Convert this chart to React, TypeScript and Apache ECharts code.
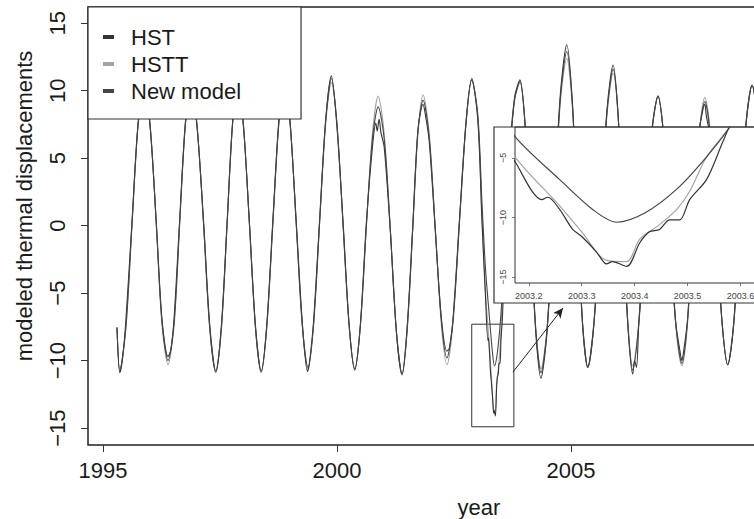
import React, { useEffect, useRef } from "react";
import * as echarts from "echarts";

// ---- data ----
const legendNames = ["HST", "HSTT", "New model"];
const xTickValues = [1995, 2000, 2005];
const yTickValues = [-15, -10, -5, 0, 5, 10, 15];
const insetXTicks = [2003.2, 2003.3, 2003.4, 2003.5, 2003.6];
const insetYTicks = [-15, -10, -5];

// [year, displacement]
const hsttPoints: number[][] = [
  [1995.3, -7.6], [1995.36, -10.8], [1995.49, -7.6], [1995.62, 0.0], [1995.75, 7.4], [1995.88, 10.5],
  [1996.01, 7.4], [1996.14, 0.0], [1996.26, -7.3], [1996.39, -10.3], [1996.52, -7.4], [1996.64, 0.2],
  [1996.76, 7.4], [1996.88, 10.4], [1997.01, 7.5], [1997.15, 0.0], [1997.28, -7.6], [1997.41, -10.9],
  [1997.53, -7.7], [1997.65, -0.1], [1997.77, 7.5], [1997.88, 10.5], [1998.0, 7.6], [1998.13, 0.0],
  [1998.26, -7.7], [1998.38, -10.9], [1998.5, -7.6], [1998.63, 0.1], [1998.76, 7.6], [1998.88, 10.8],
  [1999.0, 7.7], [1999.13, 0.0], [1999.26, -7.5], [1999.38, -10.6], [1999.5, -7.4], [1999.63, 0.2],
  [1999.76, 7.6], [1999.88, 10.6], [2000.0, 7.6], [2000.13, 0.0], [2000.26, -7.5], [2000.38, -10.6],
  [2000.5, -7.5], [2000.63, 0.0], [2000.76, 6.9], [2000.88, 9.6], [2001.01, 6.8], [2001.14, -0.2],
  [2001.27, -7.9], [2001.39, -11.1], [2001.5, -7.8], [2001.62, -0.3], [2001.73, 6.8], [2001.84, 9.7],
  [2001.97, 6.9], [2002.1, -0.2], [2002.23, -7.3], [2002.35, -10.3], [2002.48, -7.2], [2002.62, 0.3],
  [2002.76, 7.6], [2002.88, 10.8], [2003.01, 8.0], [2003.1, 0.4], [2003.174, -4.9], [2003.258, -9.0],
  [2003.3, -11.2], [2003.347, -13.6], [2003.385, -13.7], [2003.41, -11.8], [2003.447, -10.6],
  [2003.48, -9.3], [2003.504, -7.8], [2003.536, -4.9], [2003.579, -2.4], [2003.62, 0.8], [2003.7, 6.0],
  [2003.8, 9.5], [2003.91, 10.6], [2004.02, 7.6], [2004.135, 0.0], [2004.25, -7.7], [2004.36, -10.6],
  [2004.49, -7.6], [2004.63, 0.3], [2004.77, 9.0], [2004.91, 12.4], [2005.03, 8.8], [2005.14, 0.5],
  [2005.25, -7.5], [2005.36, -10.5], [2005.49, -7.4], [2005.63, 0.4], [2005.77, 8.2], [2005.9, 11.3],
  [2006.01, 7.9], [2006.11, 0.0], [2006.22, -7.4], [2006.32, -10.4], [2006.45, -7.3], [2006.59, 0.0],
  [2006.73, 6.9], [2006.86, 9.6], [2006.98, 6.8], [2007.11, -0.2], [2007.24, -7.4], [2007.37, -10.4],
  [2007.49, -7.3], [2007.61, 0.0], [2007.74, 6.8], [2007.86, 9.5], [2007.98, 6.8], [2008.1, -0.1],
  [2008.23, -7.3], [2008.35, -10.3], [2008.48, -7.3], [2008.61, 0.4], [2008.74, 7.4], [2008.87, 10.4],
  [2009.0, 7.4], [2009.12, 0.0], [2009.24, -7.3],
];

const hstPoints: number[][] = [
  [1995.3, -7.6], [1995.36, -10.9], [1995.42, -9.8], [1995.49, -7.0], [1995.62, 0.3], [1995.75, 7.6],
  [1995.88, 10.6], [1996.01, 7.2], [1996.14, 0.2], [1996.26, -6.9], [1996.39, -9.7], [1996.45, -9.2],
  [1996.52, -6.8], [1996.64, 0.5], [1996.76, 7.6], [1996.88, 10.5], [1997.01, 7.3], [1997.15, 0.3],
  [1997.28, -7.3], [1997.41, -10.8], [1997.53, -7.4], [1997.65, 0.1], [1997.77, 7.7], [1997.88, 10.6],
  [1998.0, 7.4], [1998.13, 0.2], [1998.26, -7.5], [1998.38, -10.8], [1998.5, -7.3], [1998.63, 0.4],
  [1998.76, 7.9], [1998.88, 11.0], [1999.0, 7.5], [1999.13, 0.3], [1999.26, -7.2], [1999.37, -10.8],
  [1999.41, -10.2], [1999.5, -7.1], [1999.63, 0.5], [1999.76, 7.9], [1999.88, 11.1], [2000.0, 7.3],
  [2000.13, 0.3], [2000.26, -7.3], [2000.38, -10.7], [2000.5, -7.3], [2000.63, 0.3], [2000.76, 5.9],
  [2000.83, 7.6], [2000.86, 7.0], [2000.9, 7.9], [2000.94, 6.9], [2001.01, 5.8], [2001.14, -0.4],
  [2001.27, -7.9], [2001.39, -11.0], [2001.5, -7.5], [2001.62, 0.0], [2001.73, 7.1], [2001.84, 9.0],
  [2001.88, 8.4], [2001.97, 6.3], [2002.1, -0.3], [2002.23, -6.8], [2002.35, -9.3], [2002.4, -9.1],
  [2002.48, -6.9], [2002.62, 0.6], [2002.76, 7.8], [2002.88, 10.9], [2003.01, 7.8], [2003.1, 0.2],
  [2003.174, -5.3], [2003.225, -8.5], [2003.236, -8.3], [2003.258, -9.3], [2003.283, -11.0],
  [2003.3, -11.6], [2003.328, -12.9], [2003.347, -13.9], [2003.358, -13.7], [2003.385, -14.1],
  [2003.41, -12.1], [2003.428, -11.2], [2003.447, -11.0], [2003.466, -10.2], [2003.485, -10.2],
  [2003.504, -8.5], [2003.536, -6.8], [2003.566, -3.7], [2003.579, -2.4], [2003.62, 0.6], [2003.7, 5.8],
  [2003.8, 9.6], [2003.91, 10.8], [2004.02, 7.4], [2004.135, -0.2], [2004.25, -8.0], [2004.36, -11.3],
  [2004.42, -10.2], [2004.49, -7.8], [2004.63, 0.6], [2004.77, 9.6], [2004.91, 13.4], [2005.03, 9.2],
  [2005.14, 0.7], [2005.25, -7.3], [2005.36, -10.5], [2005.49, -7.2], [2005.63, 0.6], [2005.77, 8.6],
  [2005.9, 11.9], [2006.01, 8.1], [2006.11, 0.2], [2006.22, -7.6], [2006.32, -11.0], [2006.36, -10.0],
  [2006.4, -10.5], [2006.45, -7.2], [2006.59, 0.2], [2006.73, 7.1], [2006.86, 9.6], [2006.98, 6.6],
  [2007.11, -0.4], [2007.24, -7.2], [2007.33, -9.3], [2007.37, -10.0], [2007.4, -9.5], [2007.49, -7.0],
  [2007.61, 0.2], [2007.74, 7.0], [2007.82, 8.6], [2007.86, 9.0], [2007.89, 8.2], [2007.98, 6.4],
  [2008.1, 0.1], [2008.23, -7.2], [2008.35, -10.3], [2008.48, -7.1], [2008.61, 0.6], [2008.74, 7.6],
  [2008.87, 10.4], [2009.0, 7.2], [2009.12, -0.2], [2009.24, -7.3],
];

const newModelPoints: number[][] = [
  [1995.3, -7.5], [1995.36, -10.7], [1995.49, -7.5], [1995.62, 0.1], [1995.75, 7.5], [1995.88, 10.5],
  [1996.01, 7.3], [1996.14, 0.1], [1996.26, -7.1], [1996.39, -10.0], [1996.52, -7.2], [1996.64, 0.3],
  [1996.76, 7.5], [1996.88, 10.4], [1997.01, 7.4], [1997.15, 0.1], [1997.28, -7.5], [1997.41, -10.8],
  [1997.53, -7.6], [1997.65, 0.0], [1997.77, 7.6], [1997.88, 10.5], [1998.0, 7.5], [1998.13, 0.1],
  [1998.26, -7.6], [1998.38, -10.8], [1998.5, -7.5], [1998.63, 0.2], [1998.76, 7.7], [1998.88, 10.9],
  [1999.0, 7.6], [1999.13, 0.1], [1999.26, -7.4], [1999.38, -10.5], [1999.5, -7.3], [1999.63, 0.3],
  [1999.76, 7.8], [1999.88, 10.9], [2000.0, 7.5], [2000.13, 0.1], [2000.26, -7.4], [2000.38, -10.6],
  [2000.5, -7.4], [2000.63, 0.1], [2000.76, 6.5], [2000.88, 8.8], [2001.01, 6.4], [2001.14, -0.3],
  [2001.27, -7.8], [2001.39, -11.0], [2001.5, -7.7], [2001.62, -0.1], [2001.73, 7.0], [2001.84, 9.3],
  [2001.97, 6.6], [2002.1, -0.2], [2002.23, -7.0], [2002.35, -9.8], [2002.48, -7.0], [2002.62, 0.4],
  [2002.76, 7.7], [2002.88, 10.8], [2003.01, 8.2], [2003.1, 1.6], [2003.174, -3.2], [2003.258, -6.8],
  [2003.32, -9.3], [2003.366, -10.4], [2003.42, -9.6], [2003.48, -7.6], [2003.536, -4.9],
  [2003.58, -2.4], [2003.62, 0.4], [2003.7, 5.6], [2003.8, 9.4], [2003.91, 10.7], [2004.02, 7.5],
  [2004.135, -0.1], [2004.25, -7.8], [2004.36, -10.9], [2004.49, -7.7], [2004.63, 0.4], [2004.77, 9.3],
  [2004.91, 12.9], [2005.03, 9.0], [2005.14, 0.6], [2005.25, -7.4], [2005.36, -10.5], [2005.49, -7.3],
  [2005.63, 0.5], [2005.77, 8.4], [2005.9, 11.6], [2006.01, 8.0], [2006.11, 0.1], [2006.22, -7.5],
  [2006.32, -10.7], [2006.45, -7.2], [2006.59, 0.1], [2006.73, 7.0], [2006.86, 9.6], [2006.98, 6.7],
  [2007.11, -0.3], [2007.24, -7.3], [2007.37, -10.2], [2007.49, -7.1], [2007.61, 0.1], [2007.74, 6.9],
  [2007.86, 9.2], [2007.98, 6.6], [2008.1, 0.0], [2008.23, -7.2], [2008.35, -10.3], [2008.48, -7.2],
  [2008.61, 0.5], [2008.74, 7.5], [2008.87, 10.4], [2009.0, 7.3], [2009.12, -0.1], [2009.24, -7.3],
];

// zoom window annotation (data coordinates)
const zoomBoxCorners: number[][] = [[2002.88, -7.3], [2003.78, -14.9]];
const arrowEnds: number[][] = [[2003.76, -10.85], [2004.83, -6.1]];

const FONT = "Liberation Sans, Arial, Helvetica, sans-serif";

export default function App() {
  const ref = useRef<HTMLDivElement>(null);
  useEffect(() => {
    if (!ref.current) return;
    const chart = echarts.init(ref.current, undefined, { renderer: "svg" });

    const colors: Record<string, string> = { HST: "#333333", HSTT: "#a4a4a4", "New model": "#454545" };
    const dataByName: Record<string, number[][]> = { HST: hstPoints, HSTT: hsttPoints, "New model": newModelPoints };
    const drawOrder = ["HSTT", "HST", "New model"];

    const mkSeries = (name: string, idx: number, inset: boolean) => ({
      name,
      type: "line",
      xAxisIndex: inset ? 1 : 0,
      yAxisIndex: inset ? 1 : 0,
      data: dataByName[name],
      showSymbol: false,
      symbol: "none",
      smooth: 0.3,
      clip: true,
      silent: true,
      z: (inset ? 61 : 2) + idx,
      lineStyle: { color: colors[name], width: inset ? 1.2 : 1.1 },
      itemStyle: { color: colors[name] },
    });

    const mainSeries: any[] = drawOrder.map((n, i) => mkSeries(n, i, false));
    mainSeries[0].markArea = {
      silent: true,
      itemStyle: { color: "rgba(0,0,0,0)", borderColor: "#333", borderWidth: 1 },
      data: [[{ coord: zoomBoxCorners[0] }, { coord: zoomBoxCorners[1] }]],
    };
    mainSeries[0].markLine = {
      silent: true,
      symbol: ["none", "arrow"],
      symbolSize: [7, 10],
      label: { show: false },
      lineStyle: { color: "#222", width: 1, type: "solid" },
      data: [[{ coord: arrowEnds[0] }, { coord: arrowEnds[1] }]],
    };
    const insetSeries = drawOrder.map((n, i) => mkSeries(n, i, true));

    const minusFmt = (v: number) => (v < 0 ? "\u2212" + Math.abs(v) : String(v));

    chart.setOption({
      animation: false,
      backgroundColor: "#ffffff",
      textStyle: { fontFamily: FONT },
      legend: {
        data: legendNames,
        orient: "vertical",
        left: 88,
        top: 7,
        icon: "rect",
        itemWidth: 11,
        itemHeight: 4,
        itemGap: 5,
        padding: [19, 60, 17, 15],
        backgroundColor: "#ffffff",
        borderColor: "#333",
        borderWidth: 1.2,
        borderRadius: 0,
        z: 20,
        selectedMode: false,
        textStyle: { fontSize: 22, color: "#1a1a1a", fontFamily: FONT, padding: [0, 0, 0, 12] },
      },
      grid: [
        {
          left: 88,
          top: 7,
          width: 782,
          height: 438,
          outerBoundsMode: "none",
          containLabel: false,
          show: true,
          borderColor: "#222",
          borderWidth: 1.5,
          backgroundColor: "transparent",
        },
        {
          left: 515,
          top: 127,
          width: 252,
          height: 156,
          outerBoundsMode: "none",
          containLabel: false,
          show: true,
          borderColor: "#333",
          borderWidth: 1,
          backgroundColor: "transparent",
          z: 60,
        },
      ],
      xAxis: [
        {
          type: "value",
          gridIndex: 0,
          min: 1994.68,
          max: 2011.39,
          splitLine: { show: false },
          axisLine: { show: false, onZero: false },
          axisTick: { show: true, length: 7, lineStyle: { color: "#333", width: 1 }, customValues: xTickValues },
          axisLabel: {
            fontSize: 22,
            color: "#1a1a1a",
            margin: 14,
            fontFamily: FONT,
            customValues: xTickValues,
            formatter: (v: number) => String(v),
          },
          name: "year",
          nameLocation: "middle",
          nameGap: 51,
          nameTextStyle: { fontSize: 22, color: "#1a1a1a", fontFamily: FONT },
        },
        {
          type: "value",
          gridIndex: 1,
          min: 2003.174,
          max: 2003.65,
          z: 60,
          splitLine: { show: false },
          axisLine: { show: false, onZero: false },
          axisTick: { show: true, length: 3, lineStyle: { color: "#555", width: 0.8 }, customValues: insetXTicks },
          axisLabel: {
            fontSize: 9,
            color: "#444",
            margin: 8,
            fontFamily: FONT,
            customValues: insetXTicks,
            formatter: (v: number) => v.toFixed(1),
          },
        },
      ],
      yAxis: [
        {
          type: "value",
          gridIndex: 0,
          min: -16.25,
          max: 16.2,
          splitLine: { show: false },
          axisLine: { show: false, onZero: false },
          axisTick: { show: true, length: 7, lineStyle: { color: "#333", width: 1 }, customValues: yTickValues },
          axisLabel: {
            fontSize: 22,
            color: "#1a1a1a",
            margin: 20,
            rotate: 90,
            fontFamily: FONT,
            customValues: yTickValues,
            formatter: minusFmt,
          },
        },
        {
          type: "value",
          gridIndex: 1,
          min: -15.5,
          max: -2.4,
          z: 60,
          splitLine: { show: false },
          axisLine: { show: false, onZero: false },
          axisTick: { show: true, length: 3, lineStyle: { color: "#555", width: 0.8 }, customValues: insetYTicks },
          axisLabel: {
            fontSize: 9,
            color: "#444",
            margin: 8,
            rotate: 90,
            fontFamily: FONT,
            customValues: insetYTicks,
            formatter: minusFmt,
          },
        },
      ],
      graphic: [
        {
          type: "rect",
          z: 50,
          silent: true,
          shape: { x: 494, y: 127, width: 400, height: 176 },
          style: { fill: "#ffffff", stroke: "#333", lineWidth: 1.2 },
        },
        {
          type: "text",
          x: 24,
          y: 206,
          rotation: Math.PI / 2,
          silent: true,
          style: {
            text: "modeled thermal displacements",
            fontSize: 22,
            fontFamily: FONT,
            fill: "#1a1a1a",
            align: "center",
            verticalAlign: "middle",
          },
        },
      ],
      series: [...mainSeries, ...insetSeries],
    } as any);

    return () => chart.dispose();
  }, []);

  return (
    <div
      ref={ref}
      style={{ position: "fixed", left: 0, top: 0, width: 880, height: 519, overflow: "hidden" }}
    />
  );
}
